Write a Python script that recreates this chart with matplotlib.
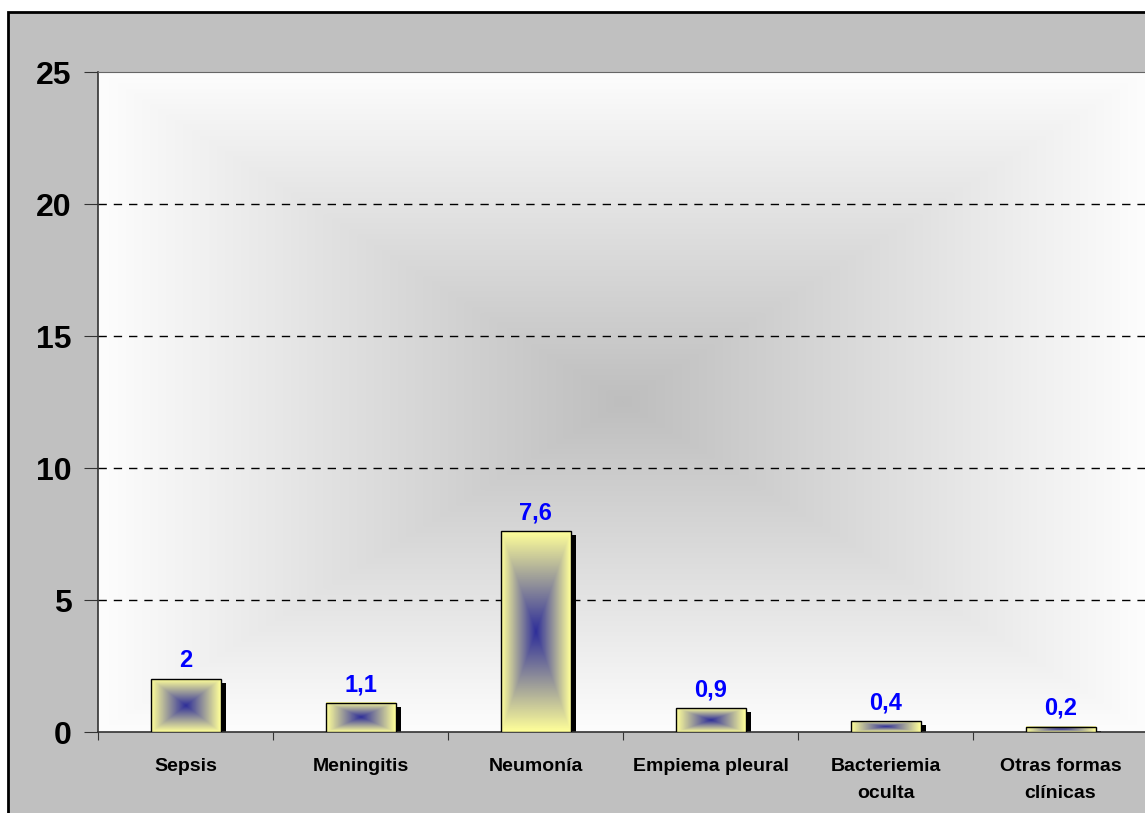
import numpy as np
import matplotlib
matplotlib.use('Agg')
import matplotlib.pyplot as plt
from matplotlib.patches import Rectangle
from matplotlib.colors import LinearSegmentedColormap

plt.rcParams['font.family'] = ['Liberation Sans', 'DejaVu Sans']

categories = ['Sepsis', 'Meningitis', 'Neumonía', 'Empiema pleural', 'Bacteriemia\noculta', 'Otras formas\nclínicas']
values     = [2.0, 1.1, 7.6, 0.9, 0.4, 0.2]
labels     = ['2', '1,1', '7,6', '0,9', '0,4', '0,2']
yticks     = [0, 5, 10, 15, 20, 25]

W, H = 1145, 813
fig = plt.figure(figsize=(W / 100, H / 100), dpi=100, facecolor='white')

# grey chart-area frame with black top/left border
fig.patches.append(Rectangle((8 / W, -0.05), 1.2, 1 - 12 / H + 0.05, transform=fig.transFigure,
                             facecolor='#C0C0C0', edgecolor='black', lw=2, zorder=-10))

ax = fig.add_axes([98 / W, 1 - 732 / H, 1050 / W, 660 / H])
ax.set_xlim(-0.5, len(categories) - 0.5)
ax.set_ylim(0, 25)

# rectangular "from centre" gradient, grey centre -> white edges
def rect_grad(nx, ny):
    gx = np.abs(np.linspace(-1, 1, nx))[None, :]
    gy = np.abs(np.linspace(-1, 1, ny))[:, None]
    return np.maximum(gx, gy)

bg_cmap = LinearSegmentedColormap.from_list('bg', ['#BEBEBE', '#FDFDFD'])
ax.imshow(rect_grad(400, 300), cmap=bg_cmap, vmin=0, vmax=1, extent=[-0.5, 5.5, 0, 25],
          aspect='auto', interpolation='bilinear', zorder=0)

for y in yticks[1:-1]:
    ax.axhline(y, color='black', lw=1, ls=(0, (6, 5)), zorder=1)

bar_w = 0.4
x = np.arange(len(categories))
sdx, sdy = 5 / 175, 4 / 26.4
ax.bar(x + sdx, np.array(values), width=bar_w, bottom=-sdy, color='black', zorder=2)
bar_cmap = LinearSegmentedColormap.from_list('bar', ['#2E2E99', '#FFFF99'])
for xi, v in zip(x, values):
    ax.imshow(rect_grad(100, 200), cmap=bar_cmap, vmin=0, vmax=1,
              extent=[xi - bar_w / 2, xi + bar_w / 2, 0, v], aspect='auto',
              interpolation='bilinear', zorder=3)
ax.bar(x, values, width=bar_w, facecolor='none', edgecolor='black', lw=1, zorder=4)

for xi, v, lab in zip(x, values, labels):
    ax.annotate(lab, (xi, v), xytext=(0, 5), textcoords='offset points', ha='center', va='bottom',
                color='#0000FF', fontsize=17, fontweight='bold', zorder=5)

ax.set_xlim(-0.5, len(categories) - 0.5)
ax.set_ylim(0, 25)
ax.set_yticks(yticks)
ax.set_yticklabels([str(t) for t in yticks], fontsize=23, fontweight='bold')
ax.set_xticks(np.arange(-0.5, len(categories), 1.0))
ax.set_xticklabels([])
ax.set_xticks(x, minor=True)
ax.set_xticklabels(categories, minor=True, fontsize=14, fontweight='bold', linespacing=1.75, va='top')
ax.tick_params(axis='x', which='major', length=6, color='#333333', direction='out')
ax.tick_params(axis='x', which='minor', length=0, pad=19)
ax.tick_params(axis='y', length=10, pad=9, color='#333333')

for s in ['left', 'bottom']:
    ax.spines[s].set_color('#333333')
    ax.spines[s].set_linewidth(1.2)
ax.spines['top'].set_color('#666666')
ax.spines['right'].set_visible(False)

fig.savefig('out.png', dpi=100, facecolor='white')
